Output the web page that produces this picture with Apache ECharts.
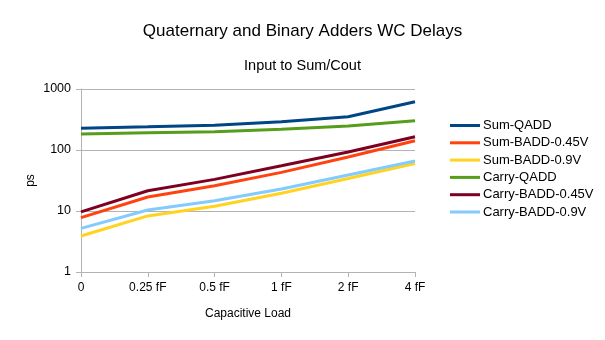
<!DOCTYPE html>
<html>
<head>
<meta charset="utf-8">
<script src="https://cdn.jsdelivr.net/npm/echarts@6/dist/echarts.min.js"></script>
<style>
  html, body { margin: 0; padding: 0; background: #fff; }
  #chart { width: 605px; height: 340px; }
</style>
</head>
<body>
<div id="chart"></div>
<script>
const loads = ["0", "0.25 fF", "0.5 fF", "1 fF", "2 fF", "4 fF"];

const sumQadd = [228, 240, 255, 290, 350, 620];
const sumBadd045 = [7.8, 17, 26, 43, 77, 142];
const sumBadd09 = [3.9, 8.3, 12, 19.5, 34, 60];
const carryQadd = [183, 192, 200, 218, 247, 302];
const carryBadd045 = [9.7, 21.5, 33, 55, 93, 165];
const carryBadd09 = [5.2, 10.4, 14.7, 23, 39, 66];

const font = "Liberation Sans";

const makeLine = (name, data, color) => ({
  name: name,
  type: "line",
  data: data,
  symbol: "none",
  lineStyle: { color: color, width: 3 },
  itemStyle: { color: color },
});

const chart = echarts.init(document.getElementById("chart"));

let option = {
  animation: false,
  title: [
    {
      text: "Quaternary and Binary Adders WC Delays",
      left: "center",
      top: 18,
      textStyle: { fontFamily: font, fontSize: 17, fontWeight: "normal", color: "#000" },
    },
    {
      text: "Input to Sum/Cout",
      left: "center",
      top: 53,
      textStyle: { fontFamily: font, fontSize: 14.5, fontWeight: "normal", color: "#000" },
    },
  ],
  legend: {
    orient: "vertical",
    left: 445,
    top: 114,
    itemWidth: 30,
    itemHeight: 3,
    itemGap: 4.3,
    icon: "rect",
    textStyle: { fontFamily: font, fontSize: 13, color: "#000", padding: [0, 0, 0, -2] },
  },
  grid: {
    left: 81,
    right: 190,
    top: 89,
    bottom: 68,
  },
  xAxis: {
    type: "category",
    data: loads,
    boundaryGap: false,
    name: "Capacitive Load",
    nameLocation: "middle",
    nameGap: 36,
    nameTextStyle: { fontFamily: font, fontSize: 12, color: "#000" },
    axisLine: { lineStyle: { color: "#b3b3b3" } },
    axisTick: { show: true, length: 5, lineStyle: { color: "#b3b3b3" } },
    axisLabel: { fontFamily: font, fontSize: 12, color: "#000", margin: 10 },
    splitLine: { show: false },
  },
  yAxis: {
    type: "log",
    logBase: 10,
    min: 1,
    max: 1000,
    name: "ps",
    nameLocation: "middle",
    nameGap: 44,
    nameMoveOverlap: false,
    nameTextStyle: { fontFamily: font, fontSize: 12, color: "#000" },
    axisLine: { show: true, lineStyle: { color: "#b3b3b3" } },
    axisTick: { show: true, length: 5, lineStyle: { color: "#b3b3b3" } },
    minorTick: { show: false },
    axisLabel: {
      fontFamily: font,
      fontSize: 12.5,
      color: "#000",
      margin: 10,
      formatter: (v) => String(Math.round(v)),
    },
    splitLine: { show: true, lineStyle: { color: "#b3b3b3" } },
  },
  series: [
    makeLine("Sum-QADD", sumQadd, "#004586"),
    makeLine("Sum-BADD-0.45V", sumBadd045, "#ff420e"),
    makeLine("Sum-BADD-0.9V", sumBadd09, "#ffd320"),
    makeLine("Carry-QADD", carryQadd, "#579d1c"),
    makeLine("Carry-BADD-0.45V", carryBadd045, "#7e0021"),
    makeLine("Carry-BADD-0.9V", carryBadd09, "#83caff"),
  ],
};

chart.setOption(option);
</script>
</body>
</html>
